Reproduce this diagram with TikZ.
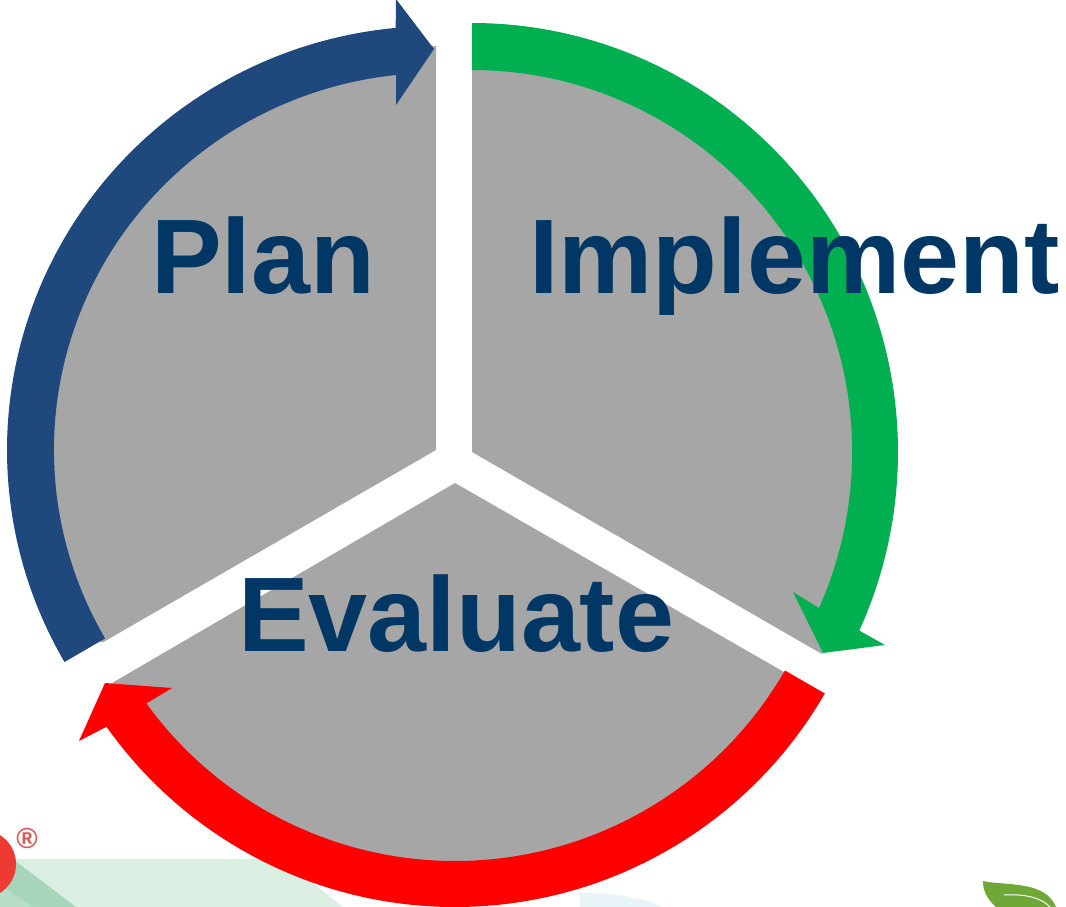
\documentclass[tikz,border=0pt]{standalone}
\usepackage{fontspec}
\setmainfont{Liberation Sans}
\definecolor{wedge}{HTML}{A6A6A6}
\definecolor{bandblue}{HTML}{1F497D}
\definecolor{bandgreen}{HTML}{00B050}
\definecolor{bandred}{HTML}{FF0000}
\definecolor{labelblue}{HTML}{003764}
\definecolor{palegreen}{HTML}{DBEEE2}
\definecolor{midgreen}{HTML}{A6D5BB}
\definecolor{softgreen}{HTML}{B7DDC8}
\definecolor{logored}{HTML}{EE3A33}
\definecolor{regred}{HTML}{DC5650}
\definecolor{leaf}{HTML}{6FA836}
\definecolor{paleblue}{HTML}{E9F4F8}
\tikzset{
  wedgeshape/.style={fill=wedge,draw=none},
  labeltext/.style={font=\fontsize{106}{106}\selectfont\bfseries,text=labelblue,inner sep=0pt,anchor=base west}
}
\begin{document}
\begin{tikzpicture}[x=1pt,y=1pt,yscale=-1]
\useasboundingbox (0,0) rectangle (1066,907);
\clip (0,0) rectangle (1066,907);
% footer decoration
\fill[palegreen] (0,859) -- (280,859) -- (314,884) -- (343,907) -- (0,907) -- cycle;
\fill[midgreen] (14,860) -- (76,907) -- (0,907) -- (0,880) -- cycle;
\fill[softgreen] (0,885) -- (33,907) -- (0,907) -- cycle;
\fill[paleblue] (580,893) .. controls (610,893) and (640,896) .. (662,907) -- (580,907) -- cycle;
\fill[logored] (-18,864) circle[radius=34];
\node[inner sep=0pt,text=regred,font=\fontsize{29}{29}\selectfont\bfseries] (reg) at (27,838) {®};
\fill[leaf] (983,881) .. controls (1005,886) and (1045,880) .. (1056,907) -- (996,907) .. controls (986,898) and (983,890) .. (983,881) -- cycle;
\draw[white,line width=1pt] (1004,895) .. controls (1020,894) and (1040,896) .. (1050,907);
% Blue segment
\begin{scope}[shift={(436,450)}]
\path[wedgeshape] (0,0) -- (150:384pt) -- (152:404pt) arc[start angle=152,end angle=270,radius=404pt] -- cycle;
\fill[bandblue] (-371.5,212) arc[start angle=150,end angle=264.6,x radius=429pt,y radius=424pt] -- (-40,-451) -- (-2,-401) -- (-40,-345) -- (-40,-375)
  arc[start angle=264,end angle=150,x radius=382pt,y radius=377pt] -- cycle;
\end{scope}
% Green segment
\begin{scope}[shift={(472,452)}]
\path[wedgeshape] (0,0) -- (-90:404pt) arc[start angle=-90,end angle=30,radius=404pt] -- cycle;
\fill[bandgreen] (0,-429) arc[start angle=-90,end angle=24.6,x radius=426pt,y radius=429pt] -- (413,193) -- (351,201) -- (321,140) -- (347,156)
  arc[start angle=24.1,end angle=-90,x radius=380pt,y radius=382pt] -- cycle;
\end{scope}
% Red segment
\begin{scope}[shift={(455,480)}]
\path[wedgeshape] (0,3) -- (329,192) -- (31:395pt) arc[start angle=31,end angle=148,radius=395pt] -- (-343,203) -- cycle;
\fill[bandred] (30:427pt) arc[start angle=30,end angle=144.7,radius=427pt] -- (-376,261) -- (-350,203) -- (-283,208) -- (144.1:381pt)
  arc[start angle=144.1,end angle=30,radius=381pt] -- cycle;
\end{scope}
% labels
\node[labeltext] (plan) at (151,293) {Plan};
\node[labeltext] (implement) at (529,293) {Implement};
\node[labeltext] (evaluate) at (238,651) {Evaluate};
\end{tikzpicture}
\end{document}
